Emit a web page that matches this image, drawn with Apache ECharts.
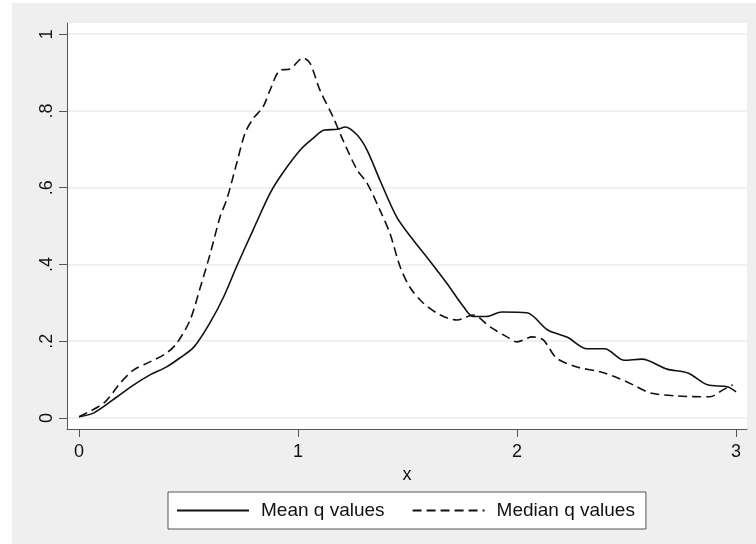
<!DOCTYPE html>
<html>
<head>
<meta charset="utf-8">
<script src="https://cdn.jsdelivr.net/npm/echarts@6/dist/echarts.min.js"></script>
<style>
  html, body { margin: 0; padding: 0; background: #fff; }
  #chart { width: 756px; height: 544px; }
</style>
</head>
<body>
<div id="chart"></div>
<script>
// mean q values (solid line)
var meanX = [0, 0.068, 0.174, 0.25, 0.324, 0.40, 0.46, 0.525, 0.60, 0.66, 0.72, 0.795, 0.872, 0.93, 1.01, 1.07, 1.12, 1.18, 1.215, 1.27, 1.315, 1.375, 1.45, 1.525, 1.60, 1.68, 1.755, 1.80, 1.86, 1.93, 2.045, 2.14, 2.23, 2.32, 2.40, 2.49, 2.57, 2.685, 2.78, 2.87, 2.96, 3.0];
var meanY = [0.003, 0.013, 0.055, 0.086, 0.112, 0.133, 0.156, 0.185, 0.25, 0.315, 0.395, 0.49, 0.585, 0.638, 0.698, 0.729, 0.75, 0.752, 0.758, 0.737, 0.698, 0.618, 0.524, 0.464, 0.41, 0.35, 0.29, 0.264, 0.264, 0.276, 0.274, 0.229, 0.21, 0.18, 0.18, 0.15, 0.153, 0.127, 0.117, 0.086, 0.081, 0.068];

// median q values (dashed line)
var medX = [0, 0.114, 0.187, 0.25, 0.324, 0.40, 0.447, 0.507, 0.55, 0.60, 0.644, 0.675, 0.72, 0.758, 0.795, 0.84, 0.872, 0.918, 0.963, 1.023, 1.055, 1.10, 1.16, 1.205, 1.27, 1.315, 1.375, 1.42, 1.466, 1.51, 1.57, 1.65, 1.726, 1.80, 1.877, 1.954, 2.00, 2.07, 2.12, 2.18, 2.27, 2.38, 2.46, 2.53, 2.61, 2.73, 2.88, 2.94, 2.985];
var medY = [0.003, 0.039, 0.09, 0.125, 0.146, 0.169, 0.195, 0.255, 0.333, 0.43, 0.524, 0.57, 0.664, 0.742, 0.78, 0.81, 0.854, 0.906, 0.909, 0.938, 0.924, 0.854, 0.784, 0.724, 0.646, 0.612, 0.54, 0.48, 0.394, 0.341, 0.30, 0.268, 0.255, 0.268, 0.237, 0.211, 0.198, 0.211, 0.203, 0.156, 0.133, 0.12, 0.104, 0.086, 0.065, 0.057, 0.055, 0.073, 0.086];

var xTicks = [0, 1, 2, 3];
var yTicks = [0, 0.2, 0.4, 0.6, 0.8, 1];

function pairs(xs, ys) {
  return xs.map(function (x, i) { return [x, ys[i]]; });
}

var font = 'Liberation Sans, Arial, sans-serif';
var chart = echarts.init(document.getElementById('chart'));
chart.setOption({
  animation: false,
  backgroundColor: '#fff',
  textStyle: { fontFamily: font },
  graphic: [
    // stata-like gray frame
    { type: 'rect', left: 12, top: 3, z: -10, shape: { width: 744, height: 541 }, style: { fill: '#efefef' } }
  ],
  grid: {
    left: 67, top: 23, right: 9, bottom: 115,
    show: true, backgroundColor: '#fff', borderWidth: 0
  },
  legend: {
    left: 168, top: 492, width: 479,
    padding: [9, 11, 9, 8],
    itemGap: 27,
    itemWidth: 72, itemHeight: 16,
    backgroundColor: '#fff',
    borderColor: '#555', borderWidth: 1,
    itemStyle: { color: 'rgba(0,0,0,0)', borderWidth: 0 },
    textStyle: { fontSize: 19, color: '#111', fontFamily: font, padding: [0, 0, 0, 7] },
    data: ['Mean q values', 'Median q values']
  },
  xAxis: {
    type: 'value', min: -0.055, max: 3.05,
    name: 'x', nameLocation: 'middle', nameGap: 36,
    nameTextStyle: { fontSize: 18, color: '#111' },
    axisLine: { show: true, onZero: false, lineStyle: { color: '#555', width: 1 } },
    axisTick: { show: true, length: 8, customValues: xTicks, lineStyle: { color: '#555' } },
    axisLabel: { customValues: xTicks, fontSize: 18, color: '#111', margin: 14 },
    splitLine: { show: false }
  },
  yAxis: {
    type: 'value', min: -0.029, max: 1.029,
    axisLine: { show: true, onZero: false, lineStyle: { color: '#555', width: 1 } },
    axisTick: { show: true, length: 8, customValues: yTicks, lineStyle: { color: '#555' } },
    axisLabel: {
      customValues: yTicks, fontSize: 18, color: '#111', rotate: 90, margin: 11,
      formatter: function (v) { return String(v).replace(/^0\./, '.'); }
    },
    splitLine: { show: true, lineStyle: { color: '#ebebeb', width: 1.5 } }
  },
  series: [
    {
      name: 'Mean q values', type: 'line', symbol: 'none', smooth: 0.3,
      lineStyle: { color: '#111', width: 1.6 },
      itemStyle: { color: '#111' },
      data: pairs(meanX, meanY)
    },
    {
      name: 'Median q values', type: 'line', symbol: 'none', smooth: 0.3,
      lineStyle: { color: '#111', width: 1.6, type: [9, 5] },
      itemStyle: { color: '#111' },
      data: pairs(medX, medY)
    }
  ]
});
</script>
</body>
</html>
